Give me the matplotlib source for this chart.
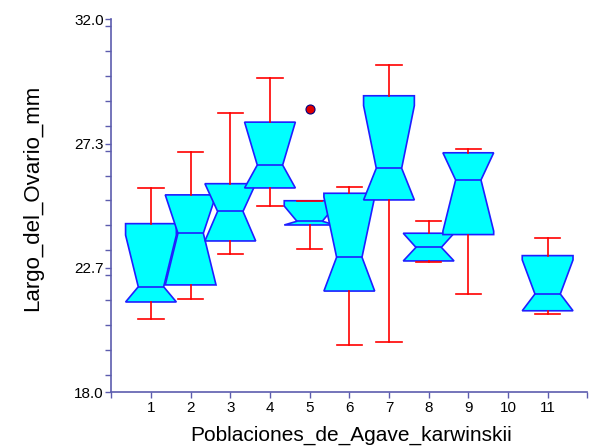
import matplotlib
matplotlib.use("Agg")
import matplotlib.pyplot as plt
from matplotlib.ticker import FixedLocator, MultipleLocator

plt.rcParams['font.family'] = ['Liberation Sans', 'DejaVu Sans']

# Poblaciones con datos (la 10 no tiene registros)
poblaciones = [1, 2, 3, 4, 5, 6, 7, 8, 9, 11]
bigote_sup = [25.67, 27.03, 28.47, 29.80, 25.19, 25.70, 30.27, 24.42, 27.12, 23.80]
cuartil_3 = [24.33, 25.41, 25.83, 28.14, 25.19, 25.47, 29.13, 23.97, 26.99, 23.13]
muesca_sup = [23.90, 25.41, 25.83, 28.14, 24.99, 25.33, 28.76, 23.97, 26.99, 22.97]
mediana = [21.96, 23.97, 24.79, 26.53, 24.42, 23.07, 26.41, 23.44, 25.97, 21.69]
muesca_inf = [21.39, 22.03, 23.68, 25.67, 24.28, 21.80, 25.22, 22.93, 24.05, 21.06]
cuartil_1 = [21.39, 22.03, 23.68, 25.67, 24.28, 21.80, 25.22, 22.93, 23.92, 21.06]
bigote_inf = [20.74, 21.49, 23.18, 25.00, 23.39, 19.78, 19.88, 22.89, 21.68, 20.93]
atipicos = {5: [28.63]}

x_ticks = list(range(0, 13))
x_labels = [""] + [str(i) for i in range(1, 12)] + [""]
y_ticks = [18.0, 22.7, 27.3, 32.0]

stats = []
for i, p in enumerate(poblaciones):
    stats.append(dict(
        med=mediana[i], q1=cuartil_1[i], q3=cuartil_3[i],
        whislo=bigote_inf[i], whishi=bigote_sup[i],
        cilo=muesca_inf[i], cihi=muesca_sup[i],
        fliers=atipicos.get(p, []),
    ))

W, H = 590, 448
fig = plt.figure(figsize=(W / 100, H / 100), dpi=100)
ax = fig.add_axes([111.3 / W, (H - 392.3) / H,
                   (587.3 - 111.3) / W, (392.3 - 19.3) / H])

azul = '#1f1fff'
rojo = '#ff0000'
eje = '#5c5cae'

ax.bxp(stats, positions=poblaciones, widths=1.28, shownotches=True,
       patch_artist=True,
       boxprops=dict(facecolor='#00ffff', edgecolor=azul, linewidth=1.2),
       medianprops=dict(color=azul, linewidth=1.2),
       whiskerprops=dict(color=rojo, linewidth=1.2),
       capprops=dict(color=rojo, linewidth=1.2),
       capwidths=0.64,
       flierprops=dict(marker='o', markerfacecolor='#e00000',
                       markeredgecolor='#000080', markersize=6.5,
                       markeredgewidth=0.8, linestyle='none'))

ax.set_xlim(0, 12)
ax.set_ylim(18, 32)
ax.xaxis.set_major_locator(FixedLocator(x_ticks))
ax.set_xticklabels(x_labels)
ax.yaxis.set_major_locator(FixedLocator([18.0, 18 + 14 / 3, 18 + 28 / 3, 32.0]))
ax.set_yticklabels([f"{v:.1f}" for v in y_ticks])
ax.yaxis.set_minor_locator(MultipleLocator(14 / 15))

for side in ('top', 'right'):
    ax.spines[side].set_visible(False)
for side in ('left', 'bottom'):
    ax.spines[side].set_color(eje)
    ax.spines[side].set_linewidth(1.2)

ax.tick_params(axis='both', which='both', direction='out', color=eje,
               width=1.0, labelsize=11, labelcolor='#000000', length=4)
ax.tick_params(axis='y', which='both', pad=1.5)
ax.tick_params(axis='x', which='major', pad=2.5)

# Títulos de los ejes colocados en coordenadas de la figura
fig.text(351 / W, 1 - 441 / H, 'Poblaciones_de_Agave_karwinskii',
         fontsize=15, ha='center', va='baseline')
fig.text(38 / W, 1 - 198.3 / H, 'Largo_del_Ovario_mm',
         fontsize=16, rotation=90, rotation_mode='anchor',
         ha='center', va='baseline')

fig.savefig('out.png', dpi=100)
